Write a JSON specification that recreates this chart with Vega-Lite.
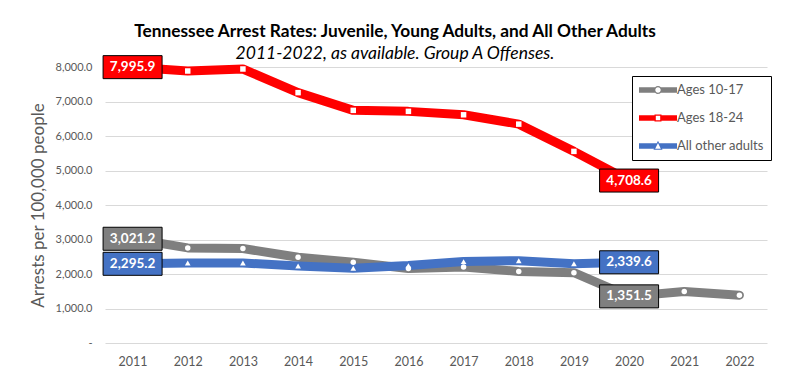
{
  "$schema": "https://vega.github.io/schema/vega-lite/v6.json",
  "width": 662,
  "height": 276,
  "autosize": {"type": "none"},
  "padding": {"left": 105, "top": 67, "right": 31, "bottom": 41},
  "background": "white",
  "config": {"view": {"stroke": null}, "font": "Lato"},
  "title": {
    "text": "Tennessee Arrest Rates: Juvenile, Young Adults, and All Other Adults",
    "subtitle": "2011-2022, as available. Group A Offenses.",
    "anchor": "middle",
    "frame": "group",
    "dx": -41,
    "offset": -9,
    "font": "Lato",
    "fontSize": 17.3,
    "fontWeight": "bold",
    "color": "black",
    "subtitleFont": "Lato",
    "subtitleFontSize": 17.5,
    "subtitleFontStyle": "italic",
    "subtitleColor": "black",
    "subtitlePadding": 5
  },
  "data": {
    "values": [
      {"series": "Ages 10-17", "year": 2011, "value": 3021.2},
      {"series": "Ages 10-17", "year": 2012, "value": 2756},
      {"series": "Ages 10-17", "year": 2013, "value": 2738},
      {"series": "Ages 10-17", "year": 2014, "value": 2485},
      {"series": "Ages 10-17", "year": 2015, "value": 2340},
      {"series": "Ages 10-17", "year": 2016, "value": 2157},
      {"series": "Ages 10-17", "year": 2017, "value": 2204},
      {"series": "Ages 10-17", "year": 2018, "value": 2075},
      {"series": "Ages 10-17", "year": 2019, "value": 2038},
      {"series": "Ages 10-17", "year": 2020, "value": 1351.5},
      {"series": "Ages 10-17", "year": 2021, "value": 1493},
      {"series": "Ages 10-17", "year": 2022, "value": 1386},
      {"series": "Ages 18-24", "year": 2011, "value": 7995.9},
      {"series": "Ages 18-24", "year": 2012, "value": 7884},
      {"series": "Ages 18-24", "year": 2013, "value": 7942},
      {"series": "Ages 18-24", "year": 2014, "value": 7257},
      {"series": "Ages 18-24", "year": 2015, "value": 6743},
      {"series": "Ages 18-24", "year": 2016, "value": 6714},
      {"series": "Ages 18-24", "year": 2017, "value": 6615},
      {"series": "Ages 18-24", "year": 2018, "value": 6344},
      {"series": "Ages 18-24", "year": 2019, "value": 5554},
      {"series": "Ages 18-24", "year": 2020, "value": 4708.6},
      {"series": "All other adults", "year": 2011, "value": 2295.2},
      {"series": "All other adults", "year": 2012, "value": 2320},
      {"series": "All other adults", "year": 2013, "value": 2320},
      {"series": "All other adults", "year": 2014, "value": 2233},
      {"series": "All other adults", "year": 2015, "value": 2166},
      {"series": "All other adults", "year": 2016, "value": 2244},
      {"series": "All other adults", "year": 2017, "value": 2360},
      {"series": "All other adults", "year": 2018, "value": 2386},
      {"series": "All other adults", "year": 2019, "value": 2299},
      {"series": "All other adults", "year": 2020, "value": 2339.6}
    ]
  },
  "encoding": {
    "x": {
      "field": "year",
      "type": "ordinal",
      "scale": {"type": "point", "padding": 0.5},
      "axis": {
        "title": null,
        "labelAngle": 0,
        "ticks": false,
        "domain": false,
        "grid": false,
        "labelFont": "Lato",
        "labelFontSize": 12.5,
        "labelColor": "#595959",
        "labelPadding": 12
      }
    },
    "y": {
      "field": "value",
      "type": "quantitative",
      "scale": {"domain": [0, 8000], "nice": false},
      "axis": {
        "title": "Arrests per 100,000 people",
        "titleFont": "Lato",
        "titleFontSize": 17,
        "titleFontWeight": "normal",
        "titleColor": "#595959",
        "titlePadding": 8,
        "values": [0, 1000, 2000, 3000, 4000, 5000, 6000, 7000, 8000],
        "labelExpr": "datum.value == 0 ? '-\u00a0\u00a0\u00a0' : format(datum.value, ',.1f')",
        "labelFont": "Lato",
        "labelFontSize": 11,
        "labelColor": "#595959",
        "labelPadding": 13,
        "ticks": false,
        "domain": false,
        "grid": true,
        "gridColor": "#d9d9d9",
        "gridWidth": 1
      }
    }
  },
  "layer": [
    {
      "mark": {"type": "line", "strokeWidth": 9, "strokeJoin": "round", "strokeCap": "round"},
      "encoding": {
        "color": {
          "field": "series",
          "type": "nominal",
          "scale": {
            "domain": ["Ages 10-17", "Ages 18-24", "All other adults"],
            "range": ["#7f7f7f", "#ff0000", "#4472c4"]
          },
          "legend": {
            "title": null,
            "orient": "none",
            "legendX": 527,
            "legendY": 9,
            "padding": 7,
            "strokeColor": "black",
            "fillColor": "white",
            "labelFont": "Lato",
            "labelFontSize": 13,
            "labelColor": "#595959",
            "labelOffset": 24,
            "symbolSize": 196,
            "symbolStrokeWidth": 0,
            "rowPadding": 14,
            "encode": {
              "symbols": {
                "update": {
                  "shape": {"signal": "datum.value === 'Ages 10-17' ? 'M-1,-0.4H1.306A0.571,0.571,0,0,1,2.122,-0.4H4.43V0.4H2.122A0.571,0.571,0,0,1,1.306,0.4H-1ZM2.1,0A0.386,0.386,0,1,0,1.328,0A0.386,0.386,0,1,0,2.1,0Z' : datum.value === 'Ages 18-24' ? 'M-1,-0.4H1.214V-0.5H2.214V-0.4H4.43V0.4H2.214V0.5H1.214V0.4H-1ZM1.4,-0.314V0.314H2.028V-0.314Z' : 'M-1,-0.4H1.539L1.714,-0.75L1.889,-0.4H4.43V0.4H2.289L2.364,0.55H1.064L1.139,0.4H-1ZM1.714,-0.42L1.314,0.38H2.114Z'"},
                  "fill": {"scale": "color", "field": "value"},
                  "stroke": {"value": "transparent"},
                  "strokeWidth": {"value": 0},
                  "opacity": {"value": 1}
                }
              }
            }
          }
        }
      }
    },
    {
      "transform": [{"filter": "datum.series == 'Ages 10-17'"}],
      "mark": {"type": "point", "filled": true, "fill": "white", "opacity": 1, "size": 30, "shape": "circle"}
    },
    {
      "transform": [{"filter": "datum.series == 'Ages 18-24'"}],
      "mark": {"type": "point", "filled": true, "fill": "white", "opacity": 1, "size": 30, "shape": "square"}
    },
    {
      "transform": [{"filter": "datum.series == 'All other adults'"}],
      "mark": {"type": "point", "filled": true, "fill": "white", "opacity": 1, "size": 32, "shape": "triangle-up"}
    },
    {
      "transform": [{"filter": "datum.year == 2011 || datum.year == 2020"}],
      "mark": {
        "type": "point",
        "filled": true,
        "opacity": 1,
        "shape": "M-1,-0.39H1V0.39H-1Z",
        "size": 3481,
        "stroke": "black",
        "strokeWidth": 1,
        "strokeOpacity": 1
      },
      "encoding": {
        "fill": {
          "field": "series",
          "type": "nominal",
          "scale": {
            "domain": ["Ages 10-17", "Ages 18-24", "All other adults"],
            "range": ["#7f7f7f", "#ff0000", "#4472c4"]
          },
          "legend": null
        }
      }
    },
    {
      "transform": [{"filter": "datum.year == 2011 || datum.year == 2020"}],
      "mark": {
        "type": "text",
        "color": "white",
        "font": "Lato",
        "fontSize": 13.5,
        "fontWeight": "bold",
        "align": "center",
        "baseline": "middle"
      },
      "encoding": {
        "text": {"field": "value", "type": "quantitative", "format": ",.1f"}
      }
    }
  ]
}
